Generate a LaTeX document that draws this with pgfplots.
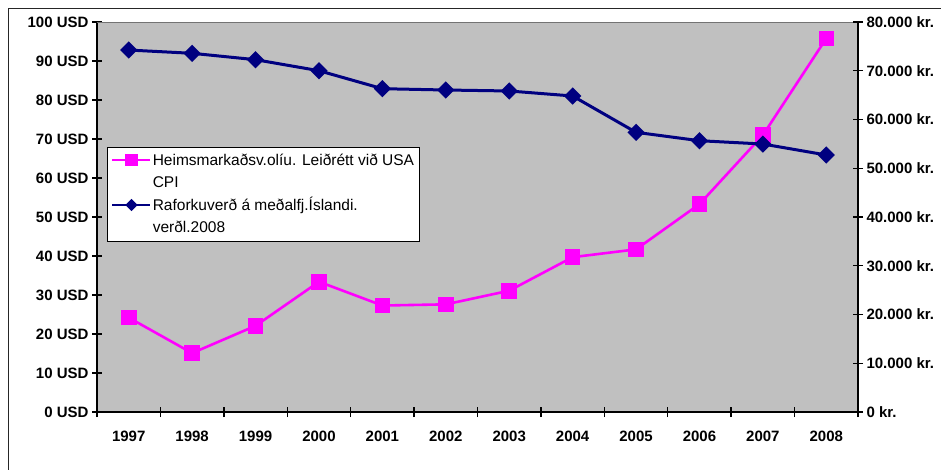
\documentclass[border=0pt]{standalone}
\usepackage{pgfplots}
\pgfplotsset{compat=1.18}
\usepackage{fontspec}
\setmainfont{Liberation Sans}
\definecolor{plotbg}{HTML}{C0C0C0}
\definecolor{oilmag}{HTML}{FF00FF}
\definecolor{elnavy}{HTML}{000080}

\begin{document}
\begin{tikzpicture}[x=1pt,y=1pt]
\useasboundingbox (0,0) rectangle (941,469);
% chart frame
\draw[line width=1.3pt, black!85] (8.5,-5) -- (8.5,460.5) -- (960,460.5);

\pgfplotsset{
  common/.style={
    scale only axis, width=761pt, height=390pt,
    at={(97pt,57pt)}, anchor=south west,
    xmin=-0.5, xmax=11.5,
    tick align=center, major tick length=10pt,
    axis line style={-, line width=1.6pt, black},
    every tick/.style={line width=1.4pt, black},
    tick label style={font=\fontsize{15}{18}\selectfont\bfseries},
    scaled y ticks=false,
  }
}

% oil price, USD (left axis)
\begin{axis}[common,
  axis y line*=left, axis x line*=bottom,
  ymin=0, ymax=100, ytick={0,10,...,100},
  yticklabels={0 USD,10 USD,20 USD,30 USD,40 USD,50 USD,60 USD,70 USD,80 USD,90 USD,100 USD},
  xtick={-0.5,0.5,...,11.5}, x tick label as interval,
  xticklabels={1997,1998,1999,2000,2001,2002,2003,2004,2005,2006,2007,2008},
  xticklabel style={yshift=-10pt},
  axis background/.style={fill=plotbg},
]
\draw[black!55, line width=0.7pt] (rel axis cs:0,1) -- (rel axis cs:1,1);
\addplot[oilmag, line width=2.6pt, mark=square*, mark size=6.5pt, mark options={solid}]
  coordinates {(0,24.2) (1,15.1) (2,22.1) (3,33.4) (4,27.3) (5,27.6)
               (6,31.1) (7,39.7) (8,41.7) (9,53.3) (10,71.0) (11,95.8)};
\end{axis}

% electricity price, kr. (right axis)
\begin{axis}[common,
  axis y line*=right, axis x line=none,
  ymin=0, ymax=80000, ytick={0,10000,...,80000},
  yticklabels={0 kr.,10.000 kr.,20.000 kr.,30.000 kr.,40.000 kr.,50.000 kr.,60.000 kr.,70.000 kr.,80.000 kr.},
  legend image code/.code={\draw[#1,mark repeat=2,mark phase=2] plot coordinates {(0pt,5.5pt) (19pt,5.5pt) (38pt,5.5pt)};},
  legend style={at={(0.013,0.679)}, anchor=north west, draw=black, line width=0.6pt,
    fill=white, font=\fontsize{15.5}{21.5}\selectfont, inner xsep=4pt, inner ysep=2pt,
    cells={anchor=base west}, nodes={inner xsep=1pt, inner ysep=1pt, text depth=, text height=}, row sep=0pt},
]
\addlegendimage{oilmag, line width=2.6pt, mark=square*, mark size=5pt}
\addlegendentry{\begin{tabular}[t]{@{}l@{}}Heimsmarkaðsv.olíu. Leiðrétt við USA\\CPI\end{tabular}}
\addlegendimage{elnavy, line width=2.6pt, mark=square*, mark size=3pt, mark options={rotate=45}}
\addlegendentry{\begin{tabular}[t]{@{}l@{}}Raforkuverð á meðalfj.Íslandi.\\verðl.2008\end{tabular}}
\addplot[elnavy, line width=3pt, mark=square*, mark size=4.6pt, mark options={rotate=45}, forget plot]
  coordinates {(0,74250) (1,73580) (2,72270) (3,70010) (4,66320) (5,66050)
               (6,65850) (7,64820) (8,57370) (9,55650) (10,54970) (11,52720)};
\end{axis}
\end{tikzpicture}
\end{document}
